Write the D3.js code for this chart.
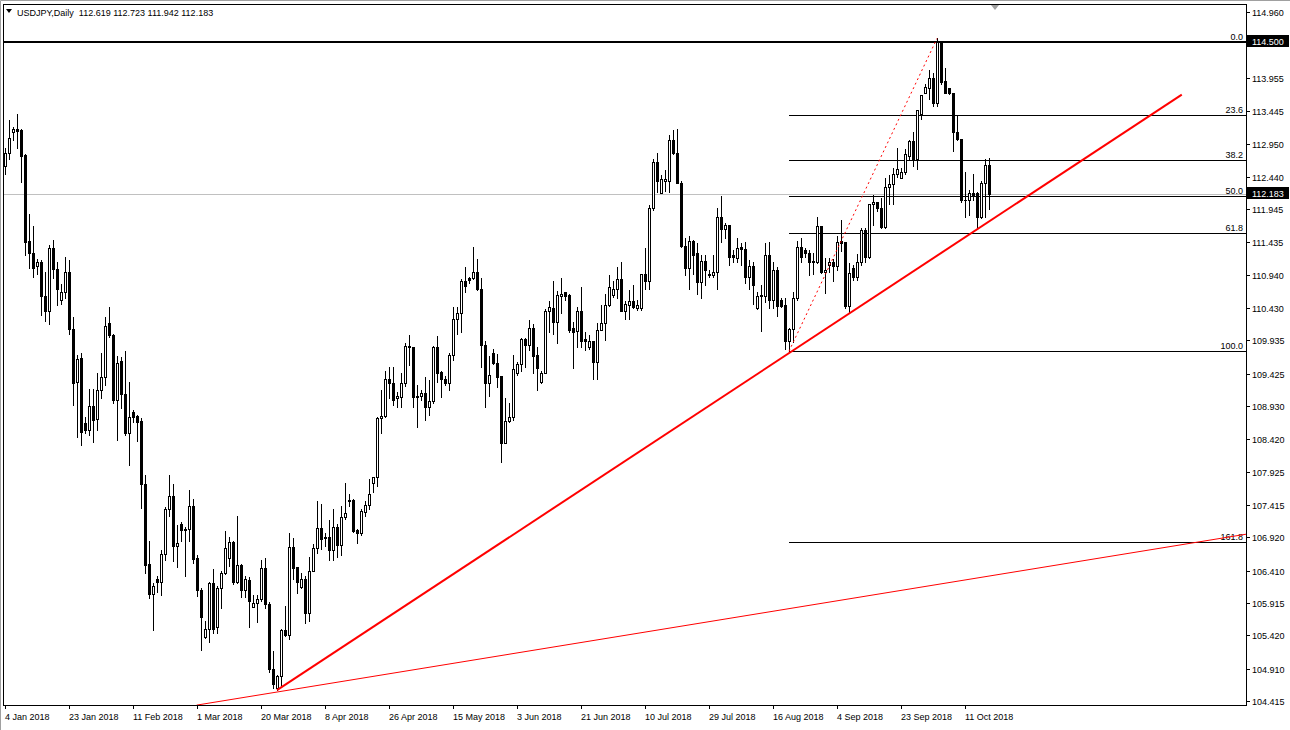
<!DOCTYPE html>
<html>
<head>
<meta charset="utf-8">
<script src="https://cdn.jsdelivr.net/npm/d3@7"></script>
<style>
  body { margin: 0; background: #fff; }
  text { font-family: "Liberation Sans", Arial, sans-serif; font-size: 9px; }
</style>
</head>
<body>
<div id="chart"></div>
<script>
// USDJPY daily bars (one bar per trading day, Sunday bars included)
const opens = [
  112.60,112.80,113.12,113.17,113.16,112.78,111.46,111.27,111.08,111.13,
  110.61,110.38,111.35,111.03,110.55,110.67,110.99,110.11,109.30,109.66,
  108.67,108.57,108.93,108.73,109.17,109.38,110.20,110.02,109.03,109.62,
  109.12,108.52,108.84,108.78,108.70,107.73,106.51,106.05,106.28,106.23,
  106.67,107.36,107.55,106.79,107.13,107.05,107.04,107.40,106.60,106.12,
  105.40,105.51,106.22,105.54,106.14,106.38,106.61,106.85,106.24,106.49,
  106.12,106.27,105.86,105.92,105.97,106.45,105.90,104.91,104.61,104.79,
  105.50,105.43,106.77,106.46,106.16,106.28,105.76,106.41,106.75,107.07,
  106.93,106.92,106.72,107.08,106.80,107.23,107.49,107.49,107.03,106.98,
  107.31,107.42,107.75,107.85,108.74,108.78,109.35,109.28,109.05,109.07,
  109.28,109.85,109.83,109.08,109.09,109.13,108.92,109.01,109.84,109.45,
  109.34,109.29,109.71,110.27,110.35,110.84,110.89,110.89,110.99,110.72,
  109.87,109.29,109.74,109.59,109.39,108.37,108.70,108.76,109.43,109.58,
  109.95,109.87,110.12,109.71,109.30,109.44,110.38,110.43,110.22,110.62,
  110.67,110.63,110.12,110.08,110.38,109.95,109.83,109.92,109.61,110.10,
  110.20,110.48,110.63,110.72,110.87,110.39,110.48,110.54,110.43,110.43,
  110.95,110.84,111.97,112.67,112.20,112.38,112.38,113.01,112.80,112.35,
  111.38,111.05,111.46,111.27,110.83,111.15,110.95,110.94,110.99,111.82,
  111.64,111.70,111.24,111.20,111.36,111.33,110.90,111.07,110.43,110.63,
  110.62,111.24,110.56,111.01,110.56,110.48,109.93,110.11,110.58,111.36,
  111.32,111.28,111.15,111.13,111.69,110.99,111.09,111.14,111.07,111.46,
  111.45,110.46,111.05,110.90,111.13,111.63,111.21,112.02,112.05,111.96,
  111.67,112.28,112.33,112.49,112.43,112.52,112.76,112.99,112.71,113.41,
  113.73,113.80,113.96,113.57,114.51,113.91,113.80,113.72,113.12,113.02,
  112.09,112.09,112.19,112.20,111.83,112.34,112.619
];
const highs = [
  112.88,113.31,113.21,113.40,113.18,112.79,111.87,111.69,111.18,111.17,
  110.99,111.39,111.47,111.14,110.80,111.22,111.17,110.30,109.71,109.75,
  108.76,109.19,109.19,109.43,109.74,110.30,110.45,110.04,109.69,109.68,
  109.77,109.30,108.87,108.79,108.74,107.87,106.87,106.22,106.32,106.72,
  107.39,107.87,107.74,107.11,107.16,107.08,107.64,107.50,106.65,106.14,
  105.64,106.24,106.43,106.18,106.41,107.01,106.93,106.86,107.25,106.51,
  106.32,106.31,106.04,106.04,106.58,106.60,105.93,105.18,104.81,105.51,
  105.87,106.99,106.91,106.47,106.38,106.32,106.62,106.82,107.47,107.43,
  106.99,107.18,107.36,107.12,107.40,107.75,107.58,107.50,107.04,107.35,
  107.48,107.82,107.85,108.77,109.18,109.46,109.53,109.53,109.15,109.43,
  109.90,110.02,109.84,109.25,109.18,109.38,109.33,109.85,110.00,109.46,
  109.39,109.74,110.44,110.44,110.87,111.06,110.91,111.37,111.18,110.89,
  109.93,109.70,109.81,109.73,109.39,109.05,108.97,109.71,109.61,109.98,
  109.98,110.25,110.19,109.83,109.46,110.42,110.54,110.85,110.69,110.89,
  110.68,110.65,110.21,110.45,110.76,110.07,110.02,109.92,110.20,110.48,
  110.65,110.94,110.84,111.06,111.13,110.54,110.71,110.78,110.55,110.96,
  111.35,112.01,112.72,112.80,112.47,112.55,113.08,113.16,113.18,112.37,
  111.50,111.53,111.47,111.43,111.25,111.24,111.01,111.24,111.96,112.15,
  111.73,111.70,111.32,111.50,111.43,111.45,111.17,111.14,110.68,110.79,
  111.42,111.45,111.14,111.06,110.58,110.58,110.12,110.67,111.46,111.50,
  111.35,111.32,111.28,111.82,111.69,111.19,111.19,111.18,111.53,111.78,
  111.45,111.12,111.09,111.26,111.65,111.65,112.03,112.16,112.06,112.11,
  112.42,112.47,112.57,112.88,112.57,112.87,113.01,113.13,113.47,113.69,
  113.86,114.07,114.03,114.56,114.51,114.10,113.80,113.72,113.39,113.02,
  112.52,112.24,112.49,112.21,112.37,112.72,112.723
];
const lows = [
  112.49,112.72,113.00,112.88,112.36,111.24,111.04,110.90,110.96,110.32,
  110.23,110.18,110.89,110.48,110.49,110.58,110.04,108.94,108.46,108.34,
  108.51,108.49,108.38,108.56,109.06,109.25,109.99,108.97,108.41,108.90,
  108.49,108.02,108.68,108.40,107.37,106.37,105.99,105.50,106.09,106.04,
  106.58,107.25,106.55,106.47,106.87,106.33,106.87,106.52,106.02,105.20,
  105.38,105.31,105.46,105.46,105.84,106.36,106.48,106.21,106.22,106.01,
  106.01,105.55,105.85,105.63,105.95,105.84,104.85,104.61,104.58,104.66,
  105.41,105.36,106.28,106.07,106.15,105.61,105.64,106.40,106.68,106.74,
  106.78,106.58,106.58,106.62,106.65,107.20,107.40,107.00,106.84,106.96,
  107.24,107.36,107.62,107.70,108.51,108.76,109.06,108.95,108.92,108.92,
  109.23,109.56,108.91,108.61,109.02,108.72,108.80,108.98,109.30,109.07,
  109.25,109.18,109.64,110.04,110.07,110.68,110.81,110.88,110.71,109.53,
  108.92,109.09,109.57,109.22,108.08,108.36,108.69,108.71,109.41,109.46,
  109.53,109.79,109.43,109.18,109.29,109.43,110.07,110.04,109.90,110.36,
  110.55,110.07,109.52,109.83,109.83,109.79,109.80,109.34,109.35,110.09,
  109.94,110.46,110.60,110.58,110.38,110.26,110.27,110.43,110.40,110.40,
  110.73,110.73,111.94,112.21,112.20,112.23,112.21,112.79,112.34,111.37,
  110.94,110.73,110.95,110.65,110.58,110.78,110.91,110.91,110.73,111.45,
  111.50,111.09,111.14,111.14,111.09,110.82,110.72,110.50,110.42,110.08,
  110.53,110.43,110.43,110.31,110.45,109.81,109.77,109.91,110.55,111.14,
  111.22,110.94,110.95,111.12,110.97,110.66,110.99,110.84,111.01,111.30,
  110.43,110.35,110.86,110.86,111.09,111.14,111.20,111.70,111.91,111.65,
  111.65,112.02,112.02,112.44,112.42,112.48,112.71,112.61,112.56,113.32,
  113.73,113.64,113.53,113.53,113.86,113.72,113.71,112.83,113.00,112.05,
  111.83,111.86,112.09,111.64,111.81,111.83,111.942
];
const closes = [
  112.80,113.03,113.17,113.15,112.76,111.45,111.27,111.04,111.13,110.61,
  110.38,111.35,111.03,110.72,110.67,110.99,110.11,109.29,109.65,108.54,
  108.56,108.93,108.72,109.18,109.38,110.15,110.02,109.02,109.59,109.12,
  108.52,108.76,108.77,108.69,107.73,106.50,106.05,106.18,106.23,106.67,
  107.36,107.55,106.79,106.84,107.03,107.03,107.40,106.59,106.12,105.70,
  105.51,106.22,105.52,106.14,106.38,106.76,106.85,106.24,106.49,106.12,
  106.28,105.95,105.91,105.97,106.45,105.90,104.90,104.67,104.80,105.50,
  105.42,106.77,106.45,106.23,106.28,105.76,106.41,106.75,107.07,106.89,
  106.91,106.72,107.08,106.80,107.23,107.29,107.47,107.01,106.98,107.32,
  107.42,107.59,107.85,108.74,108.78,109.35,109.28,109.03,109.08,109.29,
  109.85,109.83,109.07,109.07,109.13,108.92,109.01,109.84,109.43,109.34,
  109.29,109.71,110.27,110.35,110.84,110.77,110.86,110.99,110.72,109.87,
  109.29,109.41,109.59,109.38,108.37,108.70,108.76,109.49,109.58,109.95,
  109.87,110.12,109.70,109.52,109.43,110.39,110.44,110.22,110.63,110.65,
  110.62,110.10,110.07,110.38,109.93,109.93,109.92,109.61,110.10,110.20,
  110.48,110.75,110.72,110.87,110.39,110.49,110.54,110.44,110.48,110.95,
  110.84,111.97,112.67,112.37,112.40,112.40,113.01,112.80,112.35,111.38,
  111.04,111.46,111.25,110.83,111.15,111.02,110.94,110.99,111.82,111.64,
  111.70,111.22,111.21,111.35,111.33,110.90,111.07,110.79,110.62,110.61,
  111.24,110.56,111.01,110.46,110.47,109.93,110.11,110.58,111.36,111.22,
  111.28,111.13,111.13,111.69,110.99,111.02,111.13,111.07,111.45,111.42,
  110.46,110.97,110.91,111.13,111.63,111.21,112.02,112.05,111.96,111.67,
  112.28,112.33,112.49,112.56,112.52,112.79,112.99,112.71,113.47,113.69,
  113.81,113.96,113.57,114.51,113.90,113.73,113.72,113.12,113.02,112.08,
  112.08,112.19,112.14,111.83,112.34,112.62,112.183
];

// time axis labels, one every 16 bars
const dateLabels = ["4 Jan 2018","23 Jan 2018","11 Feb 2018","1 Mar 2018","20 Mar 2018","8 Apr 2018",
  "26 Apr 2018","15 May 2018","3 Jun 2018","21 Jun 2018","10 Jul 2018","29 Jul 2018",
  "16 Aug 2018","4 Sep 2018","23 Sep 2018","11 Oct 2018"];
const labelStep = 16;

// price axis labels (the one under the 114.500 box is hidden in the original)
const priceTicks = ["114.960","113.955","113.445","112.950","112.440","111.945","111.435",
  "110.940","110.430","109.935","109.425","108.930","108.420","107.925","107.415",
  "106.920","106.410","105.915","105.420","104.910","104.415"];

// drawn objects
const fibLevels = [0, 23.6, 38.2, 50, 61.8, 100, 161.8];
const fibHigh = 114.51, fibLow = 109.77, fibStartBar = 196;
const hLinePrice = 114.50;
const bidPrice = 112.183;
const trendMain = [{bar: 68, price: 104.58}, {bar: 294.2, price: 113.70}];
const trendLow = [{bar: 47.9, price: 104.35}, {bar: 310.5, price: 106.97}];
const fibDiag = [{bar: 196, price: 109.77}, {bar: 233, price: 114.56}];
const header = "USDJPY,Daily  112.619 112.723 111.942 112.183";

const W = 1290, H = 730;
const plot = {left: 4, top: 4, right: 1246, bottom: 705};

const svg = d3.select("#chart").append("svg")
    .attr("width", W)
    .attr("height", H);

const x = d3.scaleLinear().domain([0, 310]).range([5, 1245]);
const y = d3.scaleLinear().domain([104.352, 115.072]).range([705, 5]);

svg.append("defs").append("clipPath").attr("id", "clip")
  .append("rect")
    .attr("x", plot.left).attr("y", plot.top)
    .attr("width", plot.right - plot.left).attr("height", plot.bottom - plot.top);

// window border
svg.append("path")
    .attr("d", `M0.5,${H} V0.5 H${W}`)
    .attr("fill", "none").attr("stroke", "#a0a0a0");

// bid line
svg.append("line")
    .attr("x1", plot.left).attr("x2", plot.right)
    .attr("y1", Math.round(y(bidPrice)) + 0.5).attr("y2", Math.round(y(bidPrice)) + 0.5)
    .attr("stroke", "#c0c0c0");

// fibo levels
const fibG = svg.append("g").attr("shape-rendering", "crispEdges");
fibLevels.forEach(l => {
  const p = fibHigh - (fibHigh - fibLow) * l / 100;
  const yy = Math.round(y(p)) + 0.5;
  fibG.append("line")
      .attr("x1", Math.round(x(fibStartBar))).attr("x2", plot.right)
      .attr("y1", yy).attr("y2", yy)
      .attr("stroke", "#000");
  fibG.append("text")
      .attr("x", plot.right - 3).attr("y", yy - 2.5)
      .attr("text-anchor", "end")
      .text(l.toFixed(1));
});

// horizontal line at 114.50
svg.append("line")
    .attr("x1", plot.left).attr("x2", plot.right)
    .attr("y1", Math.round(y(hLinePrice))).attr("y2", Math.round(y(hLinePrice)))
    .attr("stroke", "#000").attr("stroke-width", 2)
    .attr("shape-rendering", "crispEdges");

// candles
const bars = d3.range(opens.length).map(i => ({
  i, o: opens[i], h: highs[i], l: lows[i], c: closes[i]
}));
const candles = svg.append("g").attr("shape-rendering", "crispEdges");
bars.forEach(d => {
  const cx = Math.round(x(d.i));
  candles.append("line")
      .attr("x1", cx + 0.5).attr("x2", cx + 0.5)
      .attr("y1", Math.round(y(d.h))).attr("y2", Math.round(y(d.l)) + 1)
      .attr("stroke", "#000");
  const top = Math.round(y(Math.max(d.o, d.c)));
  const bot = Math.round(y(Math.min(d.o, d.c)));
  if (d.c > d.o) {
    candles.append("rect")
        .attr("x", cx - 0.5).attr("y", top + 0.5)
        .attr("width", 2).attr("height", Math.max(1, bot - top))
        .attr("fill", "#fff").attr("stroke", "#000");
  } else {
    candles.append("rect")
        .attr("x", cx - 1).attr("y", top)
        .attr("width", 3).attr("height", Math.max(1, bot - top + 1))
        .attr("fill", "#000");
  }
});

// trend lines
const lineGen = d3.line().x(d => x(d.bar)).y(d => y(d.price));
const lines = svg.append("g").attr("clip-path", "url(#clip)");
lines.append("path").attr("d", lineGen(trendLow))
    .attr("fill", "none").attr("stroke", "#ff0000").attr("stroke-width", 1);
lines.append("path").attr("d", lineGen(trendMain))
    .attr("fill", "none").attr("stroke", "#ff0000").attr("stroke-width", 2);
lines.append("path").attr("d", lineGen(fibDiag))
    .attr("fill", "none").attr("stroke", "#ff0000").attr("stroke-width", 1)
    .attr("stroke-dasharray", "2,3");

// chart frame
svg.append("rect")
    .attr("x", plot.left - 0.5).attr("y", plot.top + 0.5)
    .attr("width", plot.right - plot.left + 1).attr("height", plot.bottom - plot.top)
    .attr("fill", "none").attr("stroke", "#000")
    .attr("shape-rendering", "crispEdges");

// price axis
const axisG = svg.append("g").attr("shape-rendering", "crispEdges");
priceTicks.forEach(t => {
  const yy = Math.round(y(+t)) + 0.5;
  axisG.append("line")
      .attr("x1", plot.right).attr("x2", plot.right + 4)
      .attr("y1", yy).attr("y2", yy).attr("stroke", "#000");
  axisG.append("text")
      .attr("x", plot.right + 6).attr("y", yy + 3.5)
      .text(t);
});

// highlighted price labels
[[hLinePrice, "114.500"], [bidPrice, "112.183"]].forEach(([p, t]) => {
  const yy = Math.round(y(p)) - 1;
  axisG.append("rect")
      .attr("x", plot.right + 1).attr("y", yy - 6)
      .attr("width", W - plot.right - 2).attr("height", 12)
      .attr("fill", "#000");
  axisG.append("text")
      .attr("x", plot.right + 6).attr("y", yy + 3.5)
      .attr("fill", "#fff")
      .text(t);
});

// time axis
dateLabels.forEach((t, k) => {
  const xx = Math.round(x(k * labelStep));
  axisG.append("line")
      .attr("x1", xx + 0.5).attr("x2", xx + 0.5)
      .attr("y1", plot.bottom).attr("y2", plot.bottom + 4)
      .attr("stroke", "#000");
  axisG.append("text")
      .attr("x", xx).attr("y", plot.bottom + 15)
      .text(t);
});

// header
svg.append("path")
    .attr("d", "M6,9 L12,9 L9,13 Z")
    .attr("fill", "#000");
svg.append("text")
    .attr("x", 17).attr("y", 16)
    .attr("xml:space", "preserve")
    .style("white-space", "pre")
    .text(header);

// chart shift marker
svg.append("path")
    .attr("d", "M991,5 L999,5 L995,10 Z")
    .attr("fill", "#a0a0a0");
</script>
</body>
</html>
